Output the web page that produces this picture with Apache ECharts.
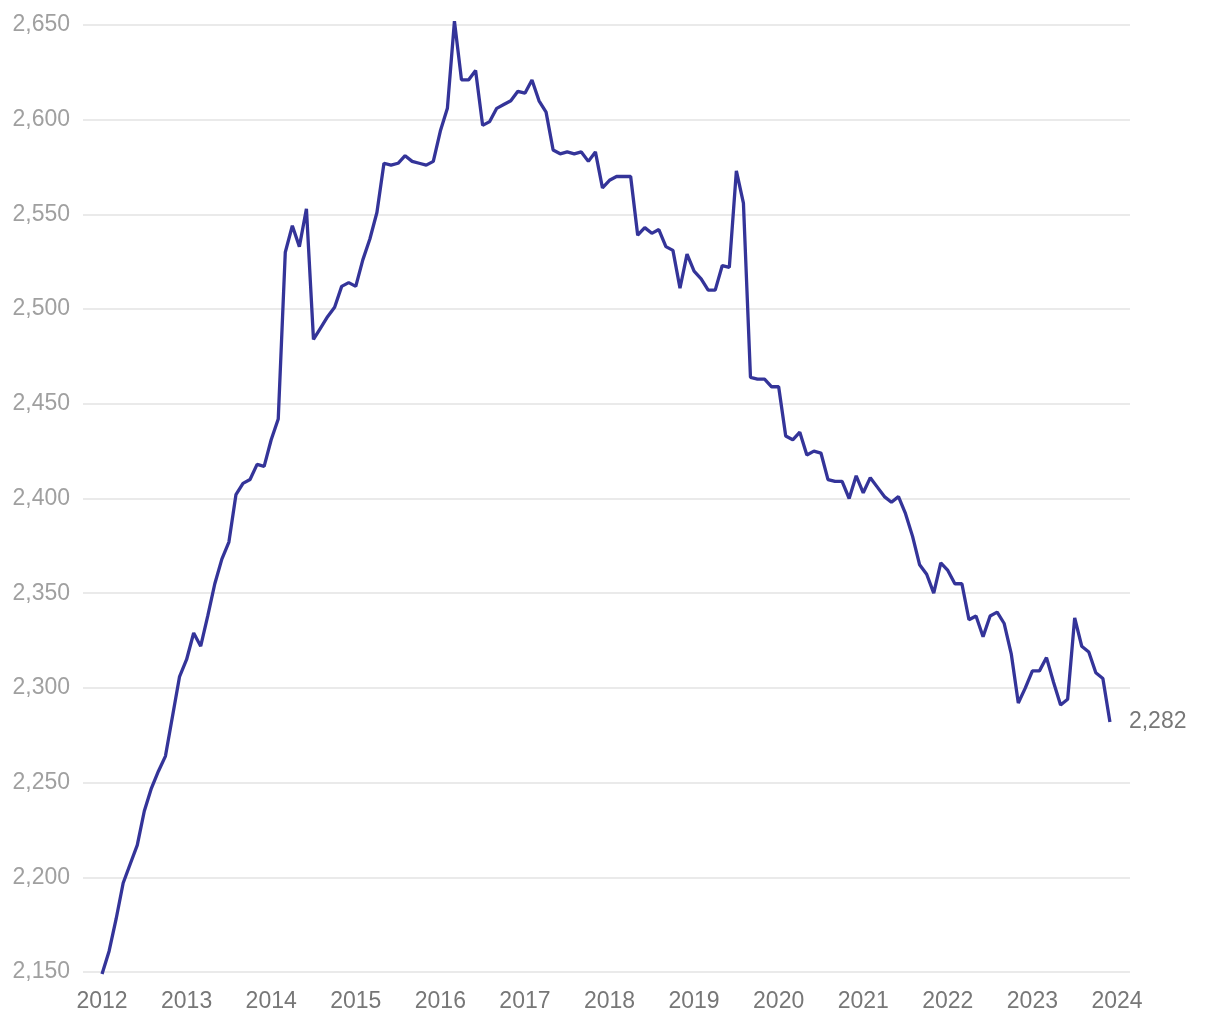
<!DOCTYPE html>
<html>
<head>
<meta charset="utf-8">
<script src="https://cdn.jsdelivr.net/npm/echarts@6/dist/echarts.min.js"></script>
<style>
  html, body { margin: 0; padding: 0; background: #ffffff; }
  #chart { width: 1220px; height: 1020px; }
</style>
</head>
<body>
<div id="chart"></div>
<script>
// Monthly values (Jan..Dec) per year
const v2012 = [2149, 2161, 2178, 2197, 2207, 2217, 2235, 2247, 2256, 2264, 2285, 2306];
const v2013 = [2315, 2329, 2322, 2338, 2355, 2368, 2377, 2402, 2408, 2410, 2418, 2417];
const v2014 = [2431, 2442, 2530, 2544, 2533, 2553, 2484, 2490, 2496, 2501, 2512, 2514];
const v2015 = [2512, 2526, 2537, 2551, 2577, 2576, 2577, 2581, 2578, 2577, 2576, 2578];
const v2016 = [2594, 2606, 2652, 2621, 2621, 2626, 2597, 2599, 2606, 2608, 2610, 2615];
const v2017 = [2614, 2621, 2610, 2604, 2584, 2582, 2583, 2582, 2583, 2578, 2583, 2564];
const v2018 = [2568, 2570, 2570, 2570, 2539, 2543, 2540, 2542, 2533, 2531, 2511, 2529];
const v2019 = [2520, 2516, 2510, 2510, 2523, 2522, 2573, 2556, 2464, 2463, 2463, 2459];
const v2020 = [2459, 2433, 2431, 2435, 2423, 2425, 2424, 2410, 2409, 2409, 2400, 2412];
const v2021 = [2403, 2411, 2406, 2401, 2398, 2401, 2392, 2380, 2365, 2360, 2350, 2366];
const v2022 = [2362, 2355, 2355, 2336, 2338, 2327, 2338, 2340, 2334, 2318, 2292, 2300];
const v2023 = [2309, 2309, 2316, 2303, 2291, 2294, 2337, 2322, 2319, 2308, 2305, 2282];

const years = [2012, 2013, 2014, 2015, 2016, 2017, 2018, 2019, 2020, 2021, 2022, 2023];
const yearValues = [v2012, v2013, v2014, v2015, v2016, v2017, v2018, v2019, v2020, v2021, v2022, v2023];
const xTickLabels = [2012, 2013, 2014, 2015, 2016, 2017, 2018, 2019, 2020, 2021, 2022, 2023, 2024];

const data = [];
years.forEach((y, yi) => {
  yearValues[yi].forEach((v, m) => {
    data.push([y + m / 12, v]);
  });
});

const fmt = n => String(Math.round(n)).replace(/\B(?=(\d{3})+(?!\d))/g, ',');
const FONT = '"Liberation Sans", Arial, Helvetica, sans-serif';

const chart = echarts.init(document.getElementById('chart'), null, { renderer: 'canvas' });
chart.setOption({
  animation: false,
  backgroundColor: '#ffffff',
  grid: { left: 83, right: 90, top: 25, bottom: 48, containLabel: false },
  xAxis: {
    type: 'value',
    min: 2011.775,
    max: 2024.154,
    axisLine: { show: false },
    axisTick: { show: false },
    splitLine: { show: false },
    axisLabel: {
      customValues: xTickLabels,
      formatter: v => String(Math.round(v)),
      color: '#777777',
      fontSize: 23,
      fontFamily: FONT,
      margin: 18
    }
  },
  yAxis: {
    type: 'value',
    min: 2150,
    max: 2650,
    interval: 50,
    axisLine: { show: false },
    axisTick: { show: false },
    splitLine: { lineStyle: { color: '#e3e3e3', width: 1.5 } },
    axisLabel: {
      formatter: v => fmt(v),
      color: '#a0a0a0',
      fontSize: 23,
      fontFamily: FONT,
      margin: 13,
      padding: [4, 0, 0, 0]
    }
  },
  series: [{
    type: 'line',
    data: data,
    showSymbol: false,
    clip: false,
    lineStyle: { color: '#343499', width: 3.3 },
    itemStyle: { color: '#343499' },
    endLabel: {
      show: true,
      formatter: p => fmt(p.value[1]),
      color: '#777777',
      fontSize: 23,
      fontFamily: FONT,
      distance: 19,
      padding: [4, 0, 0, 0]
    }
  }]
});
</script>
</body>
</html>
